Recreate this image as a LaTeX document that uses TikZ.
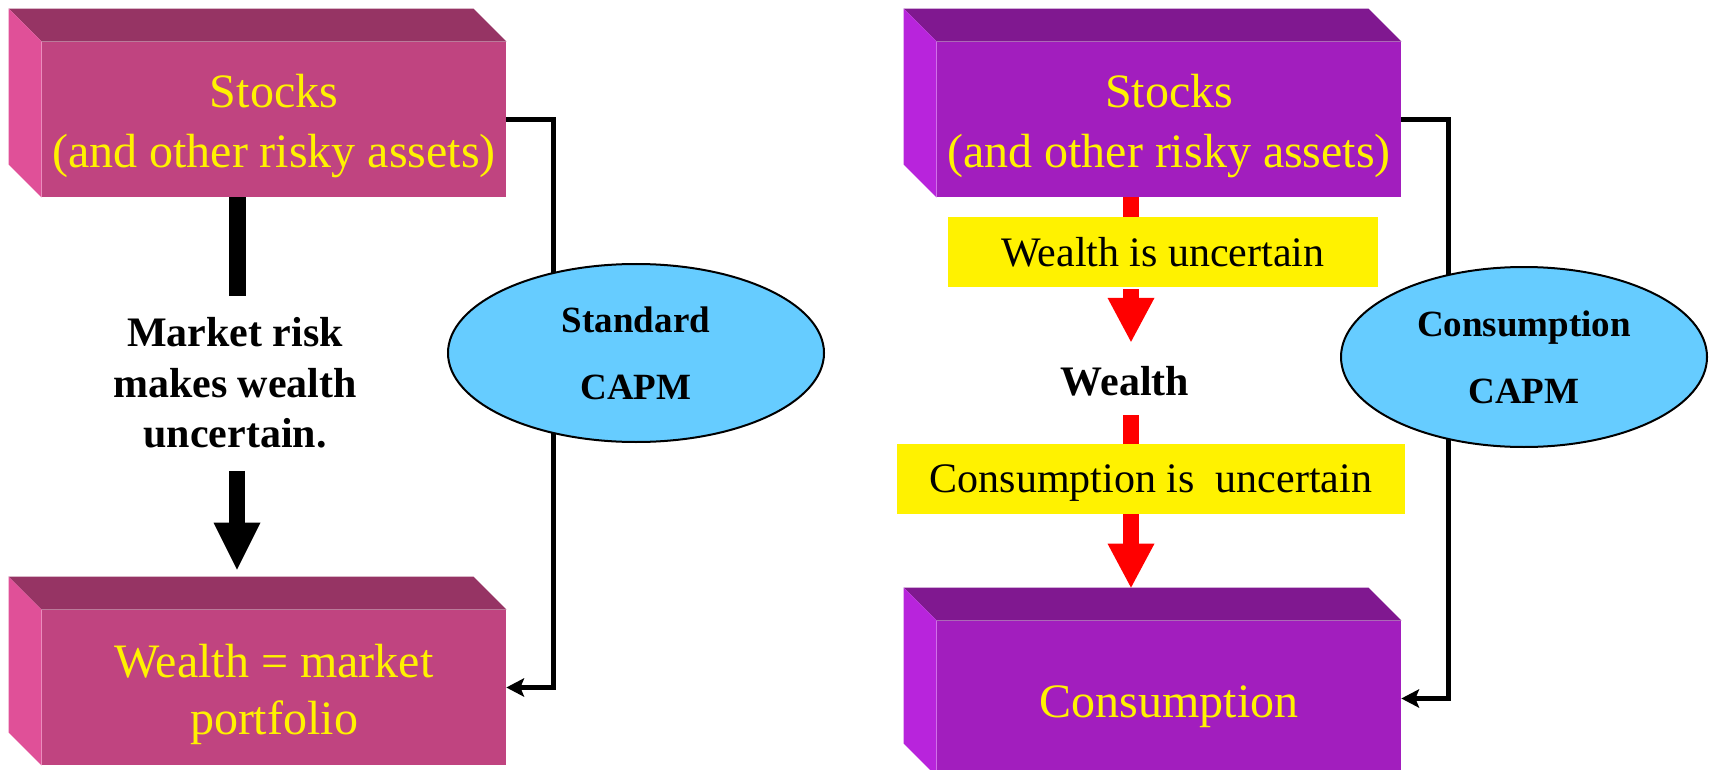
\documentclass[tikz,border=0pt]{standalone}
\usepackage{fontspec}
\setmainfont{Liberation Serif}
\usetikzlibrary{arrows.meta,shapes.geometric}

\definecolor{pinkfront}{HTML}{C04480}
\definecolor{pinktop}{HTML}{963464}
\definecolor{pinkside}{HTML}{E05098}
\definecolor{violetfront}{HTML}{A21EBE}
\definecolor{violettop}{HTML}{801890}
\definecolor{violetside}{HTML}{B824DC}
\definecolor{capmblue}{HTML}{66CCFF}

\tikzset{
  face/.style={rectangle, inner sep=0pt, minimum width=232pt, minimum height=77.5pt},
  boxtext/.style={text=yellow, font=\fontsize{24}{30}\selectfont, align=center, inner sep=0pt},
  boldtext/.style={font=\bfseries\fontsize{21}{25.25}\selectfont, align=center, inner sep=0pt},
  yellowbox/.style={rectangle, fill=yellow, inner sep=0pt, minimum width=215pt,
    minimum height=35pt, text depth=0pt, font=\fontsize{21}{25}\selectfont},
  capm/.style={ellipse, draw=black, line width=1pt, fill=capmblue, inner sep=0pt,
    align=center, font=\bfseries\fontsize{18.5}{33.5}\selectfont},
  blackbar/.style={line width=8.5pt, black},
  blackarrow/.style={line width=8pt, black,
    -{Triangle[length=23.5pt, width=23.5pt, line width=0pt]}},
  redbar/.style={line width=8pt, red},
  redarrow/.style={line width=8pt, red,
    -{Triangle[length=22pt, width=23.5pt, line width=0pt]}},
  conn/.style={line width=2.5pt, black,
    -{Stealth[length=9pt, width=9.5pt, inset=2pt, line width=0pt]}}
}

% top and left faces of a slab whose front face is node #1
\newcommand\slabfaces[3]{%
  \fill[#2] (#1.north west) -- (#1.north east) -- ([shift={(-33,-33)}]#1.north east)
    -- ([shift={(-33,-33)}]#1.north west) -- cycle;
  \fill[#3] (#1.north west) -- ([shift={(-33,-33)}]#1.north west)
    -- ([shift={(-33,-33)}]#1.south west) -- (#1.south west) -- cycle;
}

\begin{document}
\begin{tikzpicture}[x=0.5pt, y=-0.5pt]
\useasboundingbox (0,0) rectangle (1712,770);
\clip (0,0) rectangle (1712,770);

% ---- slabs ----
\node[face, fill=pinkfront]   (stL) at (274,119.5) {};
\node[face, fill=pinkfront]   (wlL) at (274,687.5) {};
\node[face, fill=violetfront] (stR) at (1169,119.5) {};
\node[face, fill=violetfront] (coR) at (1169,698.5) {};
\slabfaces{stL}{pinktop}{pinkside}
\slabfaces{wlL}{pinktop}{pinkside}
\slabfaces{stR}{violettop}{violetside}
\slabfaces{coR}{violettop}{violetside}

\node[boxtext] (stLt) at ([yshift=-3.25pt]stL.center) {Stocks\\(and other risky assets)};
\node[boxtext, font=\fontsize{24}{28.5}\selectfont] (wlLt) at ([yshift=-3.4pt]wlL.center) {Wealth = market\\portfolio};
\node[boxtext] (stRt) at ([yshift=-3.25pt]stR.center) {Stocks\\(and other risky assets)};
\node[boxtext, anchor=base] (coRt) at (1169,717) {Consumption};

% ---- standard CAPM chain ----
\coordinate (colL) at (237,0);
\coordinate (barEnd) at (237,296);
\draw[blackbar] (stL.south -| colL) -- (barEnd);
\node[boldtext] (mkt) at (235,383) {Market risk\\makes wealth\\uncertain.};
\draw[blackarrow] ([yshift=-11pt]mkt.south -| colL) -- ([yshift=20pt]wlL.north -| colL);

% ---- consumption CAPM chain ----
\coordinate (colR) at (1131,0);
\node[yellowbox] (wu) at (1163,252) {Wealth is uncertain};
\node[boldtext, anchor=base] (wth) at (1125,395) {Wealth};
\node[yellowbox, minimum width=254pt] (cu) at (1151,479) {Consumption is~ uncertain};
\draw[redbar] (stR.south -| colR) -- (wu.north -| colR);
\draw[redarrow] ([yshift=-1pt]wu.south -| colR) -- ([yshift=11.8pt]wth.north -| colR);
\draw[redbar] ([yshift=-10pt]wth.base -| colR) -- (cu.north -| colR);
\draw[redarrow] (cu.south -| colR) -- ([yshift=16.5pt]coR.north -| colR);

% ---- side connectors and model labels ----
\draw[conn] (stL.east) -- ++(47,0) |- (wlL.east);
\draw[conn] (stR.east) -- ++(47,0) |- (coR.east);
\node[capm, minimum width=188pt, minimum height=89pt] (capmL) at (636,353) {Standard\\CAPM};
\node[capm, minimum width=183pt, minimum height=90pt] (capmR) at (1524,357) {Consumption\\CAPM};
\end{tikzpicture}
\end{document}
